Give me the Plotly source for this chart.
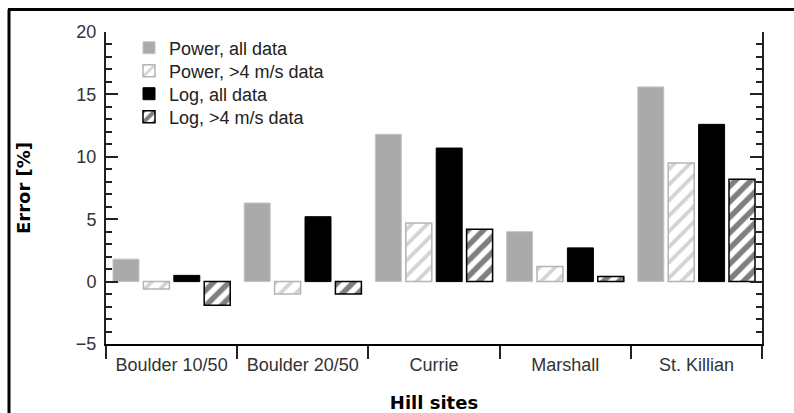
import plotly.graph_objects as go

# Hill-site error comparison: power-law vs. log-law extrapolation
sites = ["Boulder 10/50", "Boulder 20/50", "Currie", "Marshall", "St. Killian"]
power_all = [1.8, 6.3, 11.8, 4.0, 15.6]
power_gt4 = [-0.6, -1.0, 4.7, 1.2, 9.5]
log_all = [0.5, 5.2, 10.7, 2.7, 12.6]
log_gt4 = [-1.9, -1.0, 4.2, 0.4, 8.2]

series = [
    ("Power, all data", power_all, dict(color="#aaaaaa", line=dict(color="#c4c4c4", width=1))),
    ("Power, >4 m/s data", power_gt4, dict(color="white", line=dict(color="#b4b4b4", width=1.5),
                                          pattern=dict(shape="/", fgcolor="#a8a8a8", bgcolor="white",
                                                       size=11, solidity=0.35))),
    ("Log, all data", log_all, dict(color="black", line=dict(color="black", width=1))),
    ("Log, >4 m/s data", log_gt4, dict(color="white", line=dict(color="black", width=1.5),
                                       pattern=dict(shape="/", fgcolor="black", bgcolor="white",
                                                    size=11, solidity=0.5))),
]

L, R, T, B = 106, 32, 32, 69
W, H = 794, 413
pw, ph = W - L - R, H - T - B


def px(x):
    return (x - L) / pw


def py(y):
    return (H - B - y) / ph


sans = "Liberation Sans, Arial, sans-serif"
bold = "DejaVu Sans, Verdana, sans-serif"

legend_rows = [48, 71, 94, 117]
legend_ids = ["legend", "legend2", "legend3", "legend4"]

fig = go.Figure()
for (name, vals, marker), lid in zip(series, legend_ids):
    fig.add_trace(go.Bar(x=sites, y=vals, name=name, marker=marker, legend=lid))

legend_layout = {}
for lid, row in zip(legend_ids, legend_rows):
    legend_layout[lid] = dict(
        x=px(129), y=py(row), xanchor="left", yanchor="middle",
        bgcolor="rgba(0,0,0,0)", borderwidth=0,
        font=dict(family=sans, size=18, color="#222222"),
    )

# outer frame (left and top edges)
fig.add_shape(type="line", xref="paper", yref="paper",
              x0=px(9), y0=py(425), x1=px(9), y1=py(9.5),
              line=dict(color="black", width=3))
fig.add_shape(type="line", xref="paper", yref="paper",
              x0=px(8), y0=py(9.5), x1=px(800), y1=py(9.5),
              line=dict(color="black", width=3))

fig.update_layout(
    width=W, height=H,
    margin=dict(l=L, r=R, t=T, b=B, autoexpand=False),
    paper_bgcolor="white", plot_bgcolor="white",
    barmode="group", bargap=0.073, bargroupgap=0.145,
    font=dict(family=sans, size=17, color="#333333"),
    showlegend=True,
    **legend_layout,
    xaxis=dict(
        automargin=False,
        showline=True, linecolor="black", linewidth=2,
        ticks="outside", tickson="boundaries", ticklen=13, tickwidth=2, tickcolor="#222222",
        showgrid=False, tickfont=dict(family=sans, size=18, color="#333333"),
        ticklabelstandoff=3,
        title=dict(text="<b>Hill sites</b>", font=dict(family=bold, size=18, color="black"), standoff=23),
    ),
    yaxis=dict(
        automargin=False,
        range=[-5, 20], dtick=5, tick0=0,
        showline=True, linecolor="#222222", linewidth=2, mirror="ticks",
        ticks="inside", ticklen=12, tickwidth=2, tickcolor="#222222",
        minor=dict(dtick=1, ticks="inside", ticklen=6, tickwidth=1.5, tickcolor="#222222"),
        showgrid=False, zeroline=False, tickfont=dict(family=sans, size=18, color="#333333"),
        ticklabelstandoff=4,
        title=dict(text="<b>Error [%]</b>", font=dict(family=bold, size=18, color="black"), standoff=41),
    ),
)

fig.write_html("out.html")
